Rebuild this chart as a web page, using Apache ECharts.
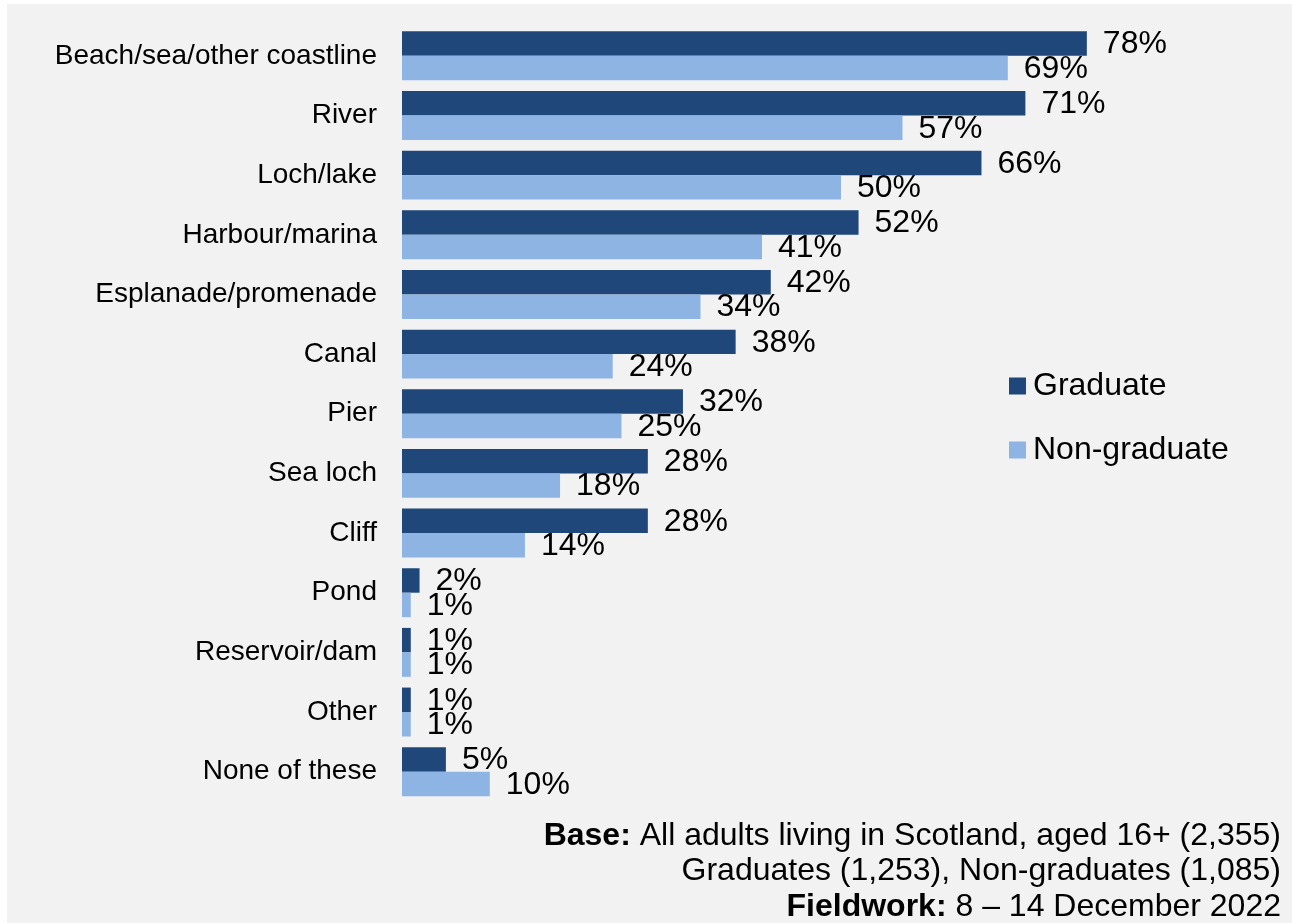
<!DOCTYPE html>
<html>
<head>
<meta charset="utf-8">
<script src="https://cdn.jsdelivr.net/npm/echarts@6/dist/echarts.min.js"></script>
<style>
  html, body { margin: 0; padding: 0; background: #ffffff; }
  #chart { width: 1292px; height: 923px; }
</style>
</head>
<body>
<div id="chart"></div>
<script>
// Waterside places visited, graduates vs non-graduates (percent of adults)
const categories = [
  'Beach/sea/other coastline', 'River', 'Loch/lake', 'Harbour/marina',
  'Esplanade/promenade', 'Canal', 'Pier', 'Sea loch', 'Cliff', 'Pond',
  'Reservoir/dam', 'Other', 'None of these'
];
const graduate    = [78, 71, 66, 52, 42, 38, 32, 28, 28, 2, 1, 1, 5];
const nonGraduate = [69, 57, 50, 41, 34, 24, 25, 18, 14, 1, 1, 1, 10];
const seriesNames = ['Graduate', 'Non-graduate'];
const footnoteLines = [
  ['Base:', ' All adults living in Scotland, aged 16+ (2,355)'],
  ['', 'Graduates (1,253), Non-graduates (1,085)'],
  ['Fieldwork:', ' 8 \u2013 14 December 2022']
];

const FONT = '"Liberation Sans", Arial, sans-serif';
const DARK = '#1F477A';
const LIGHT = '#8EB4E3';

const chart = echarts.init(document.getElementById('chart'), null, { renderer: 'canvas' });

const valueLabel = {
  show: true,
  position: 'right',
  distance: 16,
  formatter: '{c}%',
  fontFamily: FONT,
  fontSize: 32,
  color: '#000000',
  offset: [0, 1]
};

const footnoteGraphics = footnoteLines.map((parts, i) => ({
  type: 'text',
  right: 11,
  top: 820 + i * 35.5,
  silent: true,
  style: {
    text: (parts[0] ? '{b|' + parts[0] + '}' : '') + '{r|' + parts[1] + '}',
    rich: {
      b: { fontFamily: FONT, fontSize: 32, fontWeight: 'bold', fill: '#000000' },
      r: { fontFamily: FONT, fontSize: 32, fill: '#000000' }
    },
    textAlign: 'right'
  }
}));

chart.setOption({
  backgroundColor: '#ffffff',
  animation: false,
  graphic: [
    {
      type: 'rect',
      z: -10,
      silent: true,
      shape: { x: 7, y: 4, width: 1292 - 7, height: 923 - 4 },
      style: { fill: '#F2F2F2' }
    },
    ...footnoteGraphics
  ],
  legend: {
    orient: 'vertical',
    left: 1009,
    top: 369,
    padding: 0,
    itemWidth: 17,
    itemHeight: 17,
    itemGap: 30,
    icon: 'rect',
    data: seriesNames,
    textStyle: { fontFamily: FONT, fontSize: 32, color: '#000000', lineHeight: 34, padding: [0, 0, 0, 2] }
  },
  grid: {
    left: 402,
    right: 12,
    top: 26,
    height: 775.5,
    containLabel: false
  },
  xAxis: {
    type: 'value',
    min: 0,
    max: 100,
    show: false
  },
  yAxis: {
    type: 'category',
    data: categories,
    inverse: true,
    axisLine: { show: false },
    axisTick: { show: false },
    splitLine: { show: false },
    axisLabel: {
      margin: 25,
      fontFamily: FONT,
      fontSize: 28,
      color: '#000000'
    }
  },
  series: [
    {
      name: seriesNames[0],
      type: 'bar',
      data: graduate,
      barGap: '0%',
      barCategoryGap: '18%',
      itemStyle: { color: DARK },
      label: valueLabel
    },
    {
      name: seriesNames[1],
      type: 'bar',
      data: nonGraduate,
      barGap: '0%',
      barCategoryGap: '18%',
      itemStyle: { color: LIGHT },
      label: valueLabel
    }
  ]
});
</script>
</body>
</html>
